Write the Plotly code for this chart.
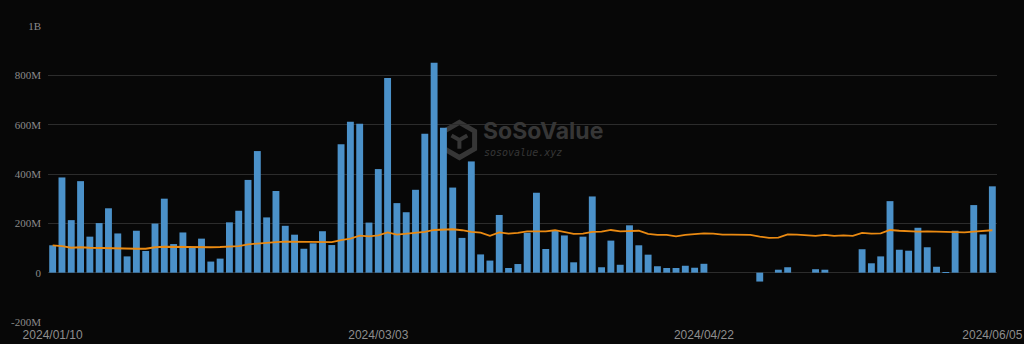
import pandas as pd
import plotly.graph_objects as go

# US trading days, 2024-01-10 .. 2024-06-05
holidays = ["2024-01-15", "2024-02-19", "2024-03-29", "2024-05-27"]
days = pd.bdate_range("2024-01-10", "2024-06-05")
days = [d for d in days if d.strftime("%Y-%m-%d") not in holidays]
dates = [d.strftime("%Y/%m/%d") for d in days]

# Daily value traded (USD)
daily_value = [
    111e6, 386e6, 213e6, 371e6, 146e6, 201e6, 261e6, 159e6, 66e6, 170e6,
    88e6, 199e6, 300e6, 116e6, 163e6, 101e6, 138e6, 45e6, 57e6, 204e6,
    251e6, 376e6, 493e6, 224e6, 331e6, 190e6, 154e6, 97e6, 119e6, 168e6,
    112e6, 521e6, 612e6, 604e6, 203e6, 420e6, 789e6, 282e6, 245e6, 336e6,
    563e6, 851e6, 588e6, 345e6, 141e6, 451e6, 74e6, 49e6, 234e6, 19e6,
    35e6, 162e6, 324e6, 96e6, 169e6, 151e6, 42e6, 146e6, 309e6, 22e6,
    130e6, 32e6, 192e6, 111e6, 73e6, 26e6, 19e6, 19e6, 28e6, 20e6,
    36e6, 0, 0, 0, 0, 0, -36e6, 0, 12e6, 22e6,
    0, 0, 14e6, 12e6, 0, 0, 0, 95e6, 38e6, 66e6,
    290e6, 93e6, 89e6, 182e6, 103e6, 24e6, 2e6, 170e6, 0, 274e6,
    155e6, 350e6,
]

# Average line (USD)
average_value = [
    111e6, 108e6, 101e6, 103e6, 101e6, 100e6, 100e6, 96e6, 96e6, 97e6,
    97e6, 103e6, 105e6, 104e6, 103e6, 103e6, 103e6, 103e6, 104e6, 107e6,
    108e6, 115e6, 119e6, 120e6, 124e6, 126e6, 126e6, 127e6, 126e6, 124e6,
    124e6, 132e6, 138e6, 150e6, 147e6, 151e6, 163e6, 154e6, 158e6, 159e6,
    165e6, 173e6, 173e6, 176e6, 172e6, 165e6, 162e6, 149e6, 163e6, 158e6,
    161e6, 167e6, 167e6, 167e6, 172e6, 166e6, 157e6, 158e6, 165e6, 166e6,
    173e6, 167e6, 170e6, 170e6, 157e6, 153e6, 153e6, 147e6, 153e6, 157e6,
    159e6, 158e6, 154e6, 154e6, 153e6, 153e6, 146e6, 141e6, 142e6, 155e6,
    154e6, 151e6, 149e6, 153e6, 149e6, 151e6, 149e6, 161e6, 158e6, 159e6,
    173e6, 170e6, 167e6, 166e6, 167e6, 166e6, 163e6, 165e6, 163e6, 166e6,
    170e6, 172e6,
]

y_ticks = [-200e6, 0, 200e6, 400e6, 600e6, 800e6, 1000e6]
y_tick_labels = ["-200M", "0", "200M", "400M", "600M", "800M", "1B"]
x_tick_index = [0, 35, 70, 101]
x_tick_labels = ["2024/01/10", "2024/03/03", "2024/04/22", "2024/06/05"]

fig = go.Figure()
fig.add_trace(go.Bar(
    x=dates, y=daily_value,
    marker=dict(color="#4b91c9", line=dict(width=0)),
    width=0.74,
    hoverinfo="x+y",
))
fig.add_trace(go.Scatter(
    x=dates, y=average_value, mode="lines",
    line=dict(color="#ea8a12", width=1.8),
))

# watermark: hexagonal cube logo + wordmark
cx, cy, r = 0.4335, 0.615, 0.0185
ry = r * 949 / 296
hexagon = "M {} {} L {} {} L {} {} L {} {} L {} {} L {} {} Z".format(
    cx, cy + ry, cx + r * 0.866, cy + ry * 0.5, cx + r * 0.866, cy - ry * 0.5,
    cx, cy - ry, cx - r * 0.866, cy - ry * 0.5, cx - r * 0.866, cy + ry * 0.5)
inner = "M {} {} L {} {} L {} {} M {} {} L {} {}".format(
    cx - r * 0.45, cy + ry * 0.25, cx, cy, cx + r * 0.45, cy + ry * 0.25,
    cx, cy, cx, cy - ry * 0.5)
shapes = [
    dict(type="path", path=hexagon, xref="paper", yref="paper", layer="below",
         fillcolor="rgba(0,0,0,0)", line=dict(color="#363636", width=5)),
    dict(type="path", path=inner, xref="paper", yref="paper", layer="below",
         line=dict(color="#363636", width=4)),
]

fig.update_layout(
    width=1024, height=344,
    margin=dict(l=48, r=27, t=26, b=22),
    paper_bgcolor="#070707", plot_bgcolor="#070707",
    showlegend=False, bargap=0.26,
    shapes=shapes,
    annotations=[
        dict(text="<b>SoSoValue</b>", xref="paper", yref="paper",
             x=0.4565, y=0.645, xanchor="left", yanchor="middle",
             showarrow=False,
             font=dict(family="Inter, Roboto, sans-serif", size=23, color="#363636")),
        dict(text="<i>sosovalue.xyz</i>", xref="paper", yref="paper",
             x=0.4575, y=0.572, xanchor="left", yanchor="middle",
             showarrow=False,
             font=dict(family="DejaVu Sans Mono, monospace", size=10, color="#363636")),
    ],
    xaxis=dict(
        type="category", range=[-0.5, len(dates) - 0.5],
        tickmode="array", automargin=False,
        tickvals=[dates[i] for i in x_tick_index], ticktext=x_tick_labels,
        tickangle=0, showgrid=False, zeroline=False, showline=False, ticks="",
        ticklabelstandoff=4,
        tickfont=dict(family="Liberation Sans, Arial, sans-serif", size=12, color="#8e8e8e"),
    ),
    yaxis=dict(
        range=[-200e6, 1000e6], tickmode="array", automargin=False,
        tickvals=y_ticks, ticktext=y_tick_labels,
        showgrid=True, gridcolor="#2c2c2c", gridwidth=1,
        zeroline=True, zerolinecolor="#2c2c2c", zerolinewidth=1,
        ticks="", ticklabelstandoff=6,
        tickfont=dict(family="Liberation Serif, Times New Roman, serif", size=11, color="#8a8a8a"),
    ),
)

fig.write_html("out.html")
